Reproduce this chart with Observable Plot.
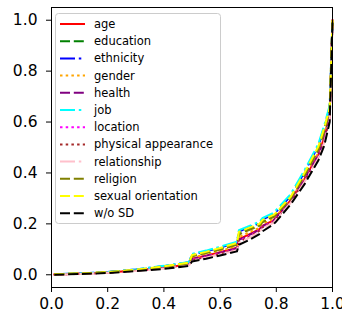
<!DOCTYPE html>
<html>
<head>
<meta charset="utf-8">
<script src="https://cdn.jsdelivr.net/npm/d3@7"></script>
<script src="https://cdn.jsdelivr.net/npm/@observablehq/plot@0.6"></script>
<style>
  html, body { margin: 0; padding: 0; background: #fff; }
  #chart svg { display: block; }
</style>
</head>
<body>
<div id="chart"></div>
<script>
// x positions shared by all series
const xs = [0.01, 0.1, 0.2, 0.3, 0.4, 0.49, 0.5, 0.55, 0.6, 0.66, 0.667, 0.7, 0.74, 0.75, 0.79, 0.8, 0.85, 0.9, 0.95, 0.97, 0.99, 1.0];

const ageVals          = [0.001,0.004,0.009,0.017,0.028,0.041,0.064,0.075,0.089,0.106,0.140,0.157,0.179,0.192,0.214,0.228,0.291,0.376,0.474,0.537,0.626,1.0];
const educationVals    = [0.002,0.005,0.010,0.019,0.032,0.046,0.075,0.087,0.101,0.120,0.162,0.178,0.195,0.209,0.230,0.241,0.300,0.393,0.496,0.567,0.652,1.0];
const ethnicityVals    = [0.002,0.005,0.011,0.021,0.034,0.049,0.080,0.092,0.107,0.127,0.170,0.185,0.202,0.217,0.237,0.248,0.308,0.402,0.507,0.577,0.658,1.0];
const genderVals       = [0.001,0.004,0.009,0.018,0.030,0.043,0.068,0.080,0.094,0.112,0.148,0.165,0.185,0.198,0.220,0.232,0.293,0.381,0.480,0.548,0.636,1.0];
const healthVals       = [0.001,0.004,0.009,0.017,0.028,0.040,0.062,0.074,0.087,0.104,0.137,0.154,0.177,0.190,0.212,0.226,0.290,0.375,0.472,0.534,0.623,1.0];
const jobVals          = [0.002,0.005,0.011,0.021,0.035,0.050,0.082,0.095,0.110,0.130,0.175,0.190,0.208,0.222,0.243,0.255,0.315,0.410,0.515,0.585,0.665,1.0];
const locationVals     = [0.001,0.004,0.008,0.016,0.027,0.039,0.060,0.071,0.085,0.101,0.133,0.150,0.175,0.188,0.210,0.224,0.287,0.372,0.468,0.528,0.619,1.0];
const physicalVals     = [0.001,0.004,0.008,0.016,0.026,0.038,0.058,0.069,0.083,0.099,0.130,0.147,0.173,0.186,0.208,0.222,0.285,0.369,0.465,0.525,0.616,1.0];
const relationshipVals = [0.001,0.003,0.008,0.015,0.025,0.037,0.056,0.067,0.080,0.096,0.126,0.143,0.168,0.182,0.204,0.218,0.281,0.363,0.459,0.517,0.610,1.0];
const religionVals     = [0.002,0.005,0.010,0.019,0.031,0.045,0.073,0.085,0.099,0.118,0.158,0.175,0.192,0.206,0.227,0.238,0.297,0.389,0.491,0.562,0.649,1.0];
const sexualVals       = [0.002,0.005,0.010,0.020,0.033,0.048,0.078,0.090,0.105,0.125,0.168,0.183,0.200,0.215,0.235,0.245,0.305,0.400,0.505,0.575,0.655,1.0];
const woSDVals         = [0.000,0.003,0.007,0.014,0.023,0.035,0.052,0.063,0.076,0.092,0.118,0.135,0.160,0.170,0.198,0.210,0.275,0.355,0.450,0.505,0.600,1.0];

const labels = ["age","education","ethnicity","gender","health","job","location","physical appearance","relationship","religion","sexual orientation","w/o SD"];
const values = [ageVals, educationVals, ethnicityVals, genderVals, healthVals, jobVals, locationVals, physicalVals, relationshipVals, religionVals, sexualVals, woSDVals];
const colors = ["red","#008000","blue","#FFA500","#800080","cyan","magenta","#A52A2A","pink","#808000","yellow","black"];
const styles = ["solid","dashed","dashdot","dotted","dashed","dashdot","dotted","dotted","dashdot","dashed","dashed","dashed"];
const xTicks = [0, 0.2, 0.4, 0.6, 0.8, 1.0];
const yTicks = [0, 0.2, 0.4, 0.6, 0.8, 1.0];

const dashMap = {solid: null, dashed: "10,3.8", dashdot: "15,3.8,2.5,3.8", dotted: "2.5,3.2"};
const FONT = "DejaVu Sans, sans-serif";

const lineMarks = labels.map((lab, i) => {
  const data = xs.map((x, j) => ({x, y: values[i][j], s: lab}));
  return Plot.line(data, {
    x: "x", y: "y", stroke: colors[i], strokeWidth: 2,
    strokeDasharray: dashMap[styles[i]],
    strokeLinecap: styles[i] === "solid" ? "square" : "butt",
    strokeLinejoin: "round"
  });
});

const chart = Plot.plot({
  width: 342, height: 318,
  marginLeft: 51, marginRight: 10, marginTop: 7, marginBottom: 31,
  style: {fontFamily: FONT, fontSize: "15.5px", color: "black", background: "white"},
  x: {domain: [0, 1], ticks: xTicks, tickFormat: d3.format(".1f"), tickSize: 5, tickPadding: 5, label: null},
  y: {domain: [-0.05, 1.05], ticks: yTicks, tickFormat: d3.format(".1f"), tickSize: 5, tickPadding: 9, label: null},
  marks: [
    ...lineMarks,
    Plot.frame({stroke: "black", strokeWidth: 1})
  ]
});
document.getElementById("chart").appendChild(chart);

// Legend (matplotlib style) inside the plot, upper left
const svg = d3.select(chart);
const lg = svg.append("g").attr("font-family", FONT).attr("font-size", "11.5px")
  .attr("text-anchor", "start");
const bx = 55.5, by = 13.5, bw = 165, bh = 210;
lg.append("rect").attr("x", bx).attr("y", by).attr("width", bw).attr("height", bh)
  .attr("rx", 3).attr("fill", "white").attr("fill-opacity", 0.8)
  .attr("stroke", "#cccccc").attr("stroke-width", 1);
labels.forEach((lab, i) => {
  const cy = 24 + i * 17.2;
  lg.append("line").attr("x1", 60).attr("x2", 85).attr("y1", cy).attr("y2", cy)
    .attr("stroke", colors[i]).attr("stroke-width", 2)
    .attr("stroke-dasharray", dashMap[styles[i]])
    .attr("stroke-linecap", "butt");
  lg.append("text").attr("x", 94).attr("y", cy).attr("dy", "0.35em")
    .attr("text-anchor", "start")
    .attr("fill", "black").text(lab);
});
</script>
</body>
</html>
